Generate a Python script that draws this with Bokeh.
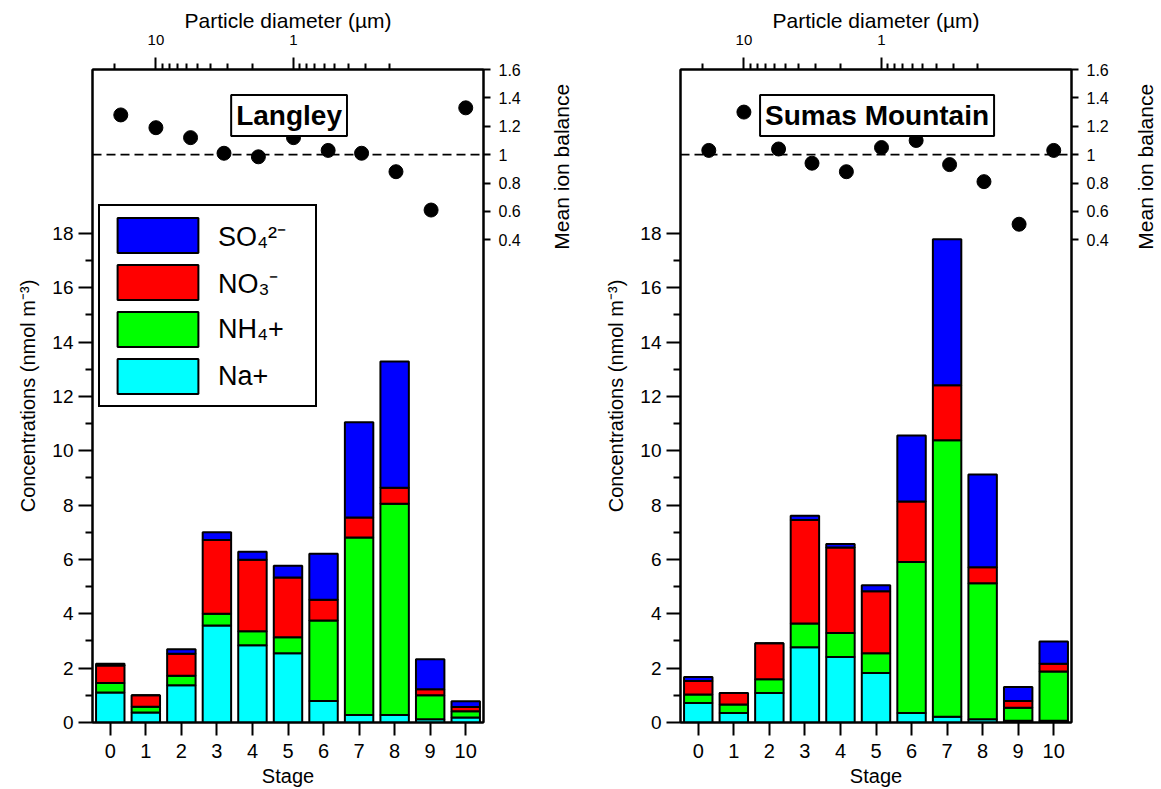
from bokeh.plotting import figure
from bokeh.models import (ColumnDataSource, Range1d, LogScale, LinearAxis, FixedTicker,
                          Legend, LegendItem, Label, Span)
from bokeh.layouts import row
from bokeh.embed import file_html
from bokeh.resources import INLINE

FONT = "Liberation Sans"

stages = list(range(11))
diameter_um = [18, 10, 5.6, 3.2, 1.8, 1.0, 0.56, 0.32, 0.18, 0.10, 0.056]

species = ["na", "nh4", "no3", "so4"]
species_labels = ["Na+", "NH₄+", "NO₃⁻", "SO₄²⁻"]
species_colors = ["#00FFFF", "#00FF00", "#FF0000", "#0000FF"]

lang_na = [1.10, 0.37, 1.37, 3.57, 2.84, 2.55, 0.79, 0.28, 0.28, 0.12, 0.18]
lang_nh4 = [0.35, 0.21, 0.35, 0.43, 0.52, 0.59, 2.96, 6.53, 7.77, 0.88, 0.23]
lang_no3 = [0.65, 0.42, 0.81, 2.72, 2.63, 2.20, 0.77, 0.73, 0.59, 0.22, 0.16]
lang_so4 = [0.06, 0.00, 0.17, 0.28, 0.29, 0.43, 1.69, 3.51, 4.64, 1.11, 0.21]
lang_ion = [1.28, 1.19, 1.12, 1.01, 0.985, 1.12, 1.03, 1.01, 0.88, 0.61, 1.33]

sumas_na = [0.72, 0.35, 1.09, 2.77, 2.41, 1.82, 0.35, 0.21, 0.12, 0.06, 0.06]
sumas_nh4 = [0.31, 0.31, 0.50, 0.87, 0.88, 0.73, 5.56, 10.18, 5.00, 0.48, 1.82]
sumas_no3 = [0.50, 0.43, 1.33, 3.81, 3.15, 2.28, 2.22, 2.02, 0.59, 0.25, 0.28]
sumas_so4 = [0.14, 0.00, 0.00, 0.16, 0.13, 0.22, 2.43, 5.37, 3.42, 0.52, 0.82]
sumas_ion = [1.03, 1.30, 1.04, 0.94, 0.88, 1.05, 1.10, 0.93, 0.81, 0.51, 1.03]

conc_major = [0, 2, 4, 6, 8, 10, 12, 14, 16, 18]
conc_minor = [1, 3, 5, 7, 9, 11, 13, 15, 17]
ion_ticks = [0.4, 0.6, 0.8, 1.0, 1.2, 1.4, 1.6]
diam_major = [10, 1]
diam_minor = [20, 9, 8, 7, 6, 5, 4, 3, 2, 0.9, 0.8, 0.7, 0.6, 0.5, 0.4, 0.3, 0.2]

ION_RANGE = (-3.0, 1.6)
FRAME_H = 653
TOP, BOTTOM = 69, 64


def style_axis(ax, label_size, tick_len, minor_len=0):
    ax.axis_line_width = 2
    ax.axis_line_color = "black"
    ax.major_tick_line_width = 2
    ax.major_tick_line_color = "black"
    ax.minor_tick_line_width = 2
    ax.minor_tick_line_color = "black"
    ax.major_tick_out = tick_len
    ax.major_tick_in = 0
    ax.minor_tick_out = minor_len
    ax.minor_tick_in = 0
    ax.major_label_text_font = FONT
    ax.major_label_text_font_size = f"{label_size}px"
    ax.major_label_text_color = "black"
    ax.axis_label_text_font = FONT
    ax.axis_label_text_font_size = "20px"
    ax.axis_label_text_font_style = "normal"
    ax.axis_label_text_color = "black"


def make_panel(title, na, nh4, no3, so4, ion, with_legend, border_left, border_right):
    p = figure(frame_width=391, frame_height=FRAME_H,
               x_range=Range1d(-0.5, 10.5), y_range=Range1d(0, 24.03),
               output_backend="svg", toolbar_location=None,
               min_border_left=border_left, min_border_right=border_right,
               min_border_top=TOP, min_border_bottom=BOTTOM,
               x_axis_location=None, y_axis_location=None)
    p.extra_x_ranges = {"d": Range1d(28.9, 0.0416)}
    p.extra_x_scales = {"d": LogScale()}
    p.extra_y_ranges = {"ion": Range1d(*ION_RANGE)}
    p.outline_line_color = "black"
    p.outline_line_width = 2
    p.outline_line_alpha = 1.0
    p.xgrid.visible = False
    p.ygrid.visible = False
    p.background_fill_color = "white"
    p.border_fill_color = "white"

    src = ColumnDataSource(dict(stage=stages, na=na, nh4=nh4, no3=no3, so4=so4))
    rends = p.vbar_stack(species, x="stage", width=0.8, source=src,
                         fill_color=species_colors, line_color="black", line_width=2)

    xb = LinearAxis(axis_label="Stage", ticker=FixedTicker(ticks=stages))
    style_axis(xb, 20, 13)
    xb.major_label_standoff = 8
    xb.axis_label_standoff = 4
    p.add_layout(xb, "below")

    yl = LinearAxis(axis_label="Concentrations (nmol m⁻³)",
                    ticker=FixedTicker(ticks=conc_major, minor_ticks=conc_minor))
    style_axis(yl, 19, 14, 7)
    yl.major_label_standoff = 5
    yl.axis_label_standoff = 10
    p.add_layout(yl, "left")

    xt = LinearAxis(x_range_name="d", axis_label="Particle diameter (µm)",
                    ticker=FixedTicker(ticks=diam_major, minor_ticks=diam_minor),
                    major_label_overrides={10: "10", 1: "1"})
    style_axis(xt, 15, 12, 6)
    xt.axis_label_text_font_size = "21px"
    xt.major_label_standoff = 13
    xt.axis_label_standoff = 0
    p.add_layout(xt, "above")

    yr = LinearAxis(y_range_name="ion",
                    ticker=FixedTicker(ticks=ion_ticks, minor_ticks=[]),
                    major_label_overrides={1: "1"})
    style_axis(yr, 16, 7)
    yr.major_label_standoff = 8
    p.add_layout(yr, "right")

    p.add_layout(Span(location=1.0, dimension="width", y_range_name="ion",
                      line_color="black", line_width=1.6, line_dash="9 5"))

    isrc = ColumnDataSource(dict(d=diameter_um, ion=ion))
    p.scatter("d", "ion", source=isrc, x_range_name="d", y_range_name="ion",
              size=14, fill_color="black", line_color="black")

    p.add_layout(Label(x=5.03, y=22.34, text=title, text_align="center",
                       text_baseline="middle", text_font=FONT, text_font_size="28px",
                       text_font_style="bold", text_color="black",
                       border_line_color="black", border_line_width=2,
                       border_line_alpha=1.0,
                       background_fill_color="white", padding=5))

    if with_legend:
        items = [LegendItem(label=lab_, renderers=[r])
                 for lab_, r in zip(species_labels[::-1], rends[::-1])]
        leg = Legend(items=items, location=(6, 315), orientation="vertical",
                     glyph_width=101, glyph_height=44, spacing=3, padding=7,
                     margin=0, label_standoff=10, label_width=90,
                     label_text_font=FONT, label_text_font_size="27px",
                     label_text_color="black",
                     border_line_color="black", border_line_width=2,
                     border_line_alpha=1.0,
                     background_fill_color="white", background_fill_alpha=1.0)
        p.add_layout(leg)
    return p


def make_side_label(width, text_x):
    # narrow strip holding the right-hand axis title, reading bottom-to-top
    s = figure(frame_width=width, frame_height=FRAME_H,
               x_range=Range1d(0, width), y_range=Range1d(*ION_RANGE),
               output_backend="svg", toolbar_location=None,
               min_border_left=0, min_border_right=0,
               min_border_top=TOP, min_border_bottom=BOTTOM,
               x_axis_location=None, y_axis_location=None)
    s.outline_line_color = None
    s.xgrid.visible = False
    s.ygrid.visible = False
    s.background_fill_color = "white"
    s.border_fill_color = "white"
    s.add_layout(Label(x=text_x, y=0.915, text="Mean ion balance",
                       angle=1.5707963267948966, text_align="center",
                       text_baseline="middle", text_font=FONT,
                       text_font_size="21px", text_color="black"))
    return s


p1 = make_panel("Langley", lang_na, lang_nh4, lang_no3, lang_so4, lang_ion, True, 92, 44)
s1 = make_side_label(48, 34)
p2 = make_panel("Sumas Mountain", sumas_na, sumas_nh4, sumas_no3, sumas_so4, sumas_ion, False, 105, 44)
s2 = make_side_label(45, 30)

p = row(p1, s1, p2, s2)
open("out.html", "w").write(file_html(p, INLINE))
